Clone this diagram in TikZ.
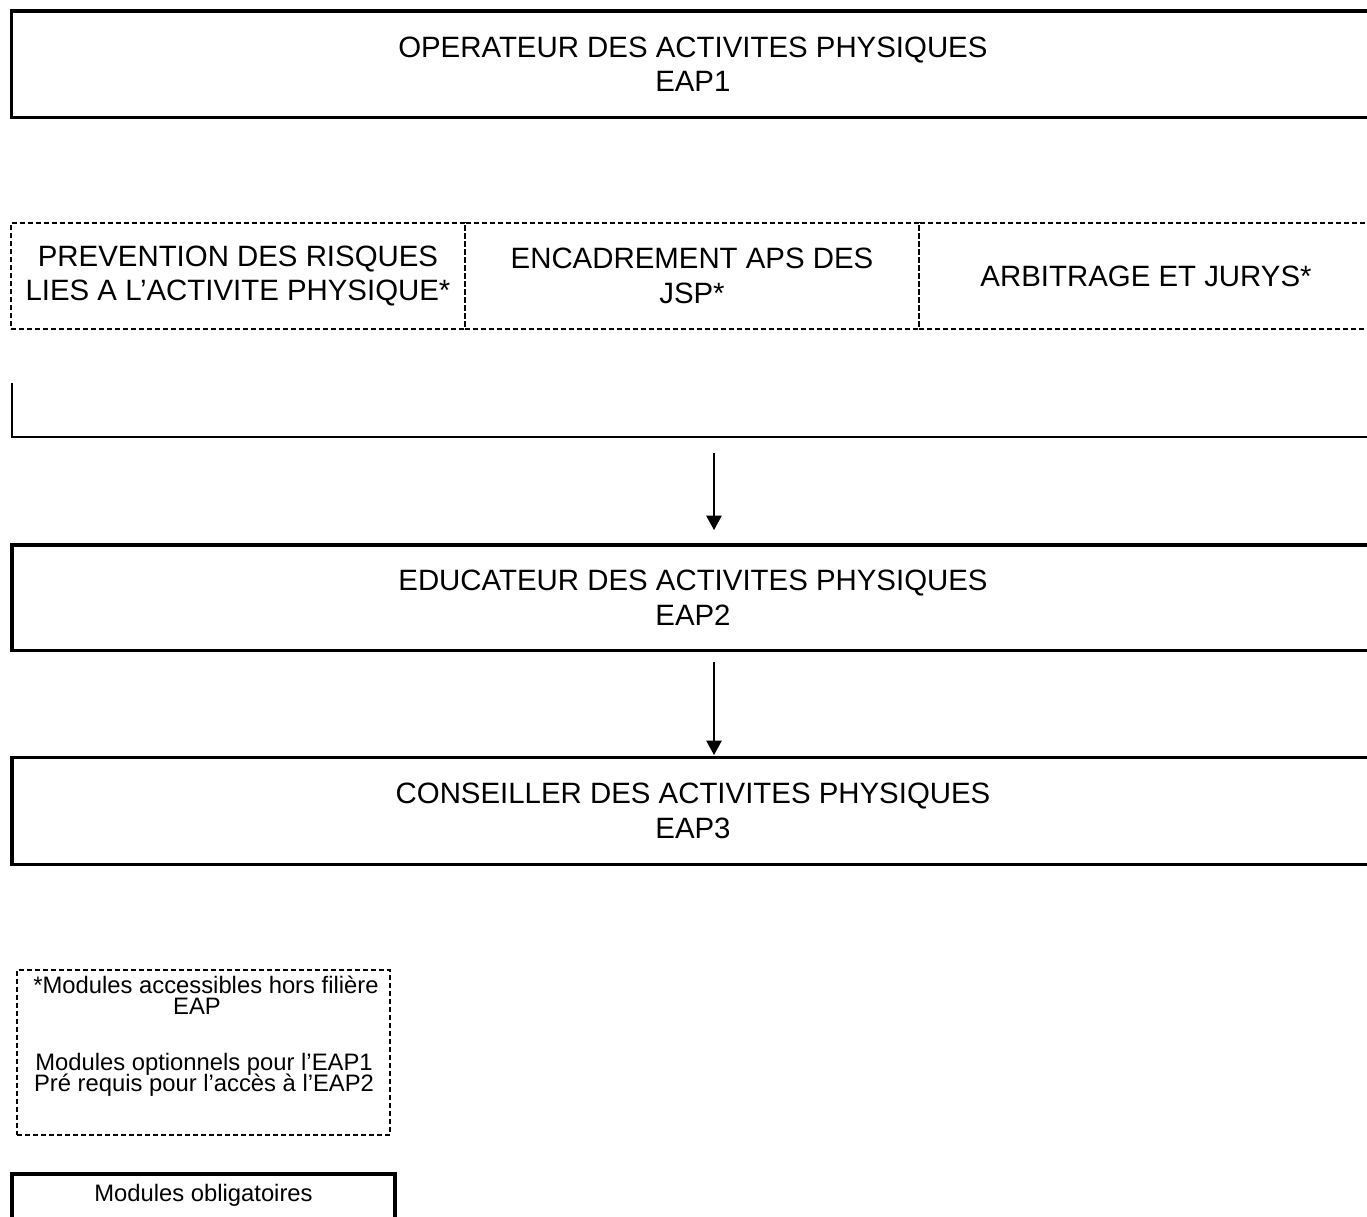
\documentclass[tikz,border=0pt]{standalone}
\usepackage{fontspec}
\setmainfont{Liberation Sans}
\usetikzlibrary{arrows.meta}
\begin{document}
\begin{tikzpicture}[x=1pt,y=-1pt,
  mainfont/.style={font=\fontsize{29.4pt}{34.3pt}\selectfont},
  legfont/.style={font=\fontsize{23.8pt}{21.5pt}\selectfont},
  thickbox/.style={draw, line width=3.4pt, inner sep=0pt, outer sep=0pt, align=center, mainfont},
  dashbox/.style={draw, line width=1.8pt, dash pattern=on 5pt off 3pt, inner sep=0pt, outer sep=0pt, align=center, mainfont},
  conn/.style={line width=1.3pt, -{Triangle[width=15.5pt,length=14.5pt]}},
  bracket/.style={line width=2pt},
  legtext/.style={legfont, anchor=base, inner sep=0pt}
]
\useasboundingbox (0,0) rectangle (1367,1216);
\clip (0,0) rectangle (1367,1216);

% main level boxes
\node[thickbox, minimum width=1362.3pt, minimum height=106.3pt] (eap1) at (692.85,64.15)
  {OPERATEUR DES ACTIVITES PHYSIQUES\\EAP1};

% optional modules row
\node[dashbox, minimum width=454pt, minimum height=106pt] (prev) at (238,276)
  {PREVENTION DES RISQUES\\LIES A L’ACTIVITE PHYSIQUE*};
\node[dashbox, minimum width=454pt, minimum height=106pt] (encad) at (692,276)
  {ENCADREMENT APS DES\\JSP*};
\node[dashbox, minimum width=454pt, minimum height=106pt] (arbit) at (1146,276)
  {ARBITRAGE ET JURYS*};

% bracket
\coordinate (brtop) at (12,382.7);
\coordinate (brcorner) at (12,436.7);
\coordinate (brend) at (1380,436.7);
\draw[bracket] (brtop) -- (brcorner) -- (brend);

\node[thickbox, minimum width=1362pt, minimum height=105.7pt] (eap2) at (693,597.85)
  {EDUCATEUR DES ACTIVITES PHYSIQUES\\EAP2};
\node[thickbox, minimum width=1362pt, minimum height=106.6pt] (eap3) at (693,811)
  {CONSEILLER DES ACTIVITES PHYSIQUES\\EAP3};

% arrows
\coordinate (a1) at (714,453);
\draw[conn, shorten >=15pt] (a1) -- (a1 |- eap2.north);
\draw[conn, shorten <=11.3pt, shorten >=2.7pt] (eap2.south -| a1) -- (eap3.north -| a1);

% legend
\node[dashbox, minimum width=373pt, minimum height=165pt] (leg) at (203.5,1052.5) {};
\node[legtext] (leg1) at (206,993) {*Modules accessibles hors filière};
\node[legtext] (leg2) at (197,1014.5) {EAP};
\node[legtext] (leg3) at (204,1070) {Modules optionnels pour l’EAP1};
\node[legtext] (leg4) at (204,1091.5) {Pré requis pour l’accès à l’EAP2};

\node[thickbox, minimum width=383pt, minimum height=100pt] (oblig) at (203.5,1224) {};
\node[legtext] (oblig1) at (203.5,1201) {Modules obligatoires};
\end{tikzpicture}
\end{document}
